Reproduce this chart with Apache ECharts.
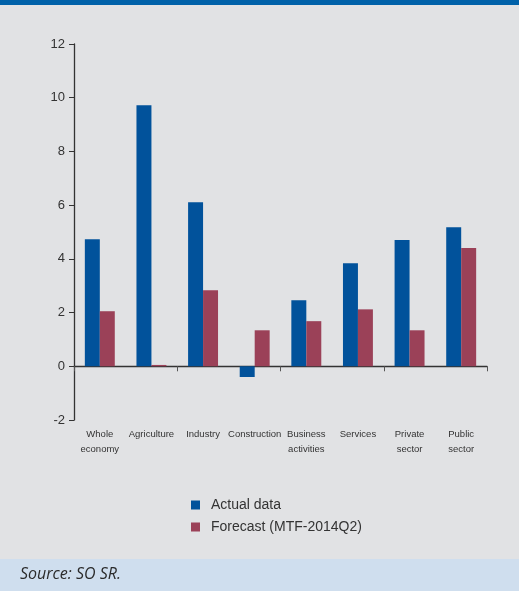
<!DOCTYPE html>
<html>
<head>
<meta charset="utf-8">
<script src="https://cdn.jsdelivr.net/npm/echarts@6/dist/echarts.min.js"></script>
<style>
  html, body { margin: 0; padding: 0; background: #e1e2e4; }
  #chart { width: 519px; height: 591px; }
</style>
</head>
<body>
<div id="chart"></div>
<script>
// categories and values
const categories = ['Whole\neconomy', 'Agriculture', 'Industry', 'Construction', 'Business\nactivities', 'Services', 'Private\nsector', 'Public\nsector']
const actualData = [4.73, 9.72, 6.11, -0.4, 2.46, 3.84, 4.70, 5.18]
const forecastData = [2.05, 0.05, 2.83, 1.34, 1.68, 2.12, 1.34, 4.40]
const seriesNames = ['Actual data', 'Forecast (MTF-2014Q2)']
const sourceText = 'Source: SO SR.'

const chart = echarts.init(document.getElementById('chart'), null, { renderer: 'canvas' })

const option = {
  backgroundColor: '#e1e2e4',
  animation: false,
  graphic: [
    // top band
    { type: 'rect', left: 0, top: 0, shape: { width: 519, height: 5 }, style: { fill: '#0061a9' } },
    // bottom source band
    { type: 'rect', left: 0, top: 559, shape: { width: 519, height: 32 }, style: { fill: '#cfdeee' } },
    {
      type: 'text', left: 20, top: 566,
      style: { text: sourceText, fill: '#2b2b2b', font: 'italic 16px "Open Sans", sans-serif' }
    }
  ],
  grid: { left: 74, top: 44, right: 32, bottom: 171, containLabel: false },
  legend: {
    orient: 'vertical',
    left: 186,
    top: 493,
    itemWidth: 9,
    itemHeight: 9,
    itemGap: 8,
    icon: 'rect',
    textStyle: { fontSize: 14, color: '#333', padding: [0, 0, 0, 6] },
    data: seriesNames
  },
  xAxis: [
    {
      type: 'category',
      data: categories,
      axisLine: { onZero: true, lineStyle: { color: '#333', width: 1.3 } },
      axisTick: { show: true, length: 5, lineStyle: { color: '#555' } },
      axisLabel: { show: false }
    },
    {
      // labels only, kept at the bottom of the grid
      type: 'category',
      data: categories,
      position: 'bottom',
      axisLine: { show: false, onZero: false },
      axisTick: { show: false },
      axisLabel: {
        show: true,
        interval: 0,
        margin: 7,
        fontSize: 9.5,
        lineHeight: 15,
        color: '#333'
      }
    }
  ],
  yAxis: {
    type: 'value',
    min: -2,
    max: 12,
    interval: 2,
    splitLine: { show: false },
    axisLine: { show: true, lineStyle: { color: '#333', width: 1.3 } },
    axisTick: { show: true, length: 5, lineStyle: { color: '#333' } },
    axisLabel: { fontSize: 13, color: '#333', margin: 9 }
  },
  series: [
    {
      name: seriesNames[0],
      type: 'bar',
      xAxisIndex: 0,
      data: actualData,
      barGap: '0%',
      barCategoryGap: '42%',
      itemStyle: { color: '#01529b' }
    },
    {
      name: seriesNames[1],
      type: 'bar',
      xAxisIndex: 0,
      data: forecastData,
      barGap: '0%',
      barCategoryGap: '42%',
      itemStyle: { color: '#9b4158' }
    }
  ]
}

chart.setOption(option)
</script>
</body>
</html>
